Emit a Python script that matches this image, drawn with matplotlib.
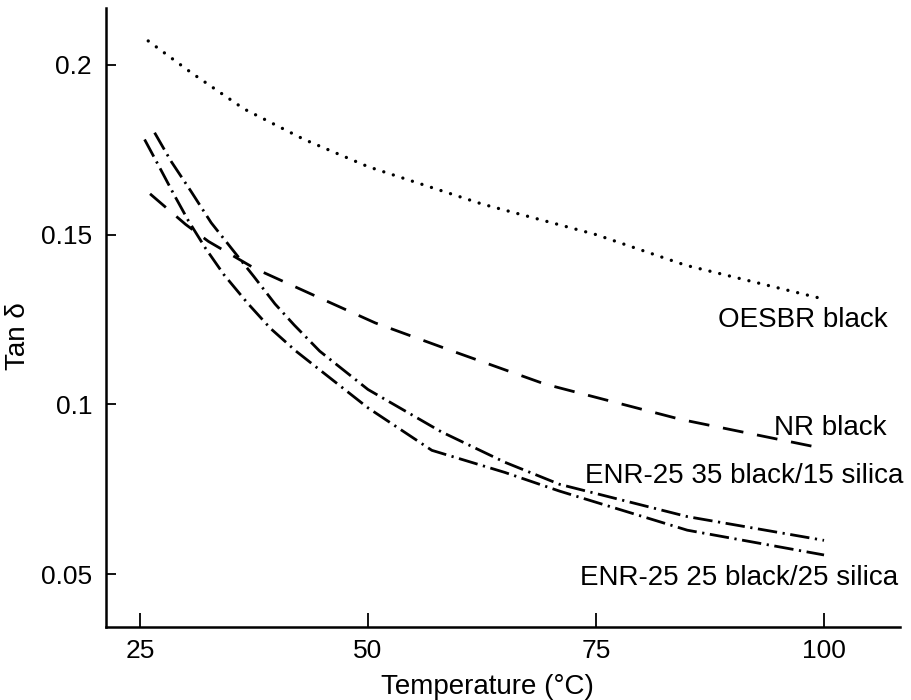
import matplotlib
matplotlib.use("Agg")
import matplotlib.pyplot as plt

plt.rcParams['font.family'] = ['Liberation Sans', 'DejaVu Sans']

# OESBR black (dotted)
oesbr_t = [25.9, 30.7, 36.4, 43.0, 50.0, 62.5, 75.0, 84.8, 100.0]
oesbr_v = [0.207, 0.1975, 0.187, 0.178, 0.170, 0.159, 0.150, 0.141, 0.131]

# NR black (dashed)
nr_t = [26.1, 30.0, 32.5, 37.6, 45.0, 50.8, 60.0, 69.4, 84.3, 100.0]
nr_v = [0.162, 0.153, 0.148, 0.140, 0.131, 0.124, 0.1150, 0.106, 0.0956, 0.087]

# ENR-25 35 black/15 silica (dash-dot, upper)
enr35_t = [26.6, 28.4, 30.6, 32.8, 35.1, 37.5, 39.8, 41.9, 44.7, 50.0, 58.0, 65.0, 71.0, 85.0, 100.0]
enr35_v = [0.180, 0.1716, 0.1627, 0.1535, 0.1457, 0.1376, 0.1296, 0.1234, 0.1157, 0.1044,
           0.092, 0.083, 0.0765, 0.067, 0.060]

# ENR-25 25 black/25 silica (dash-dot, lower)
enr25_t = [25.5, 27.2, 28.7, 30.3, 32.2, 34.2, 36.8, 39.3, 42.1, 50.0, 57.0, 65.0, 71.0, 85.0, 100.0]
enr25_v = [0.178, 0.1695, 0.1619, 0.1541, 0.1459, 0.1382, 0.1298, 0.1224, 0.1157, 0.099,
           0.0865, 0.080, 0.0745, 0.063, 0.0557]

labels = ["OESBR black", "NR black", "ENR-25 35 black/15 silica", "ENR-25 25 black/25 silica"]
label_x = [107.0, 106.9, 108.7, 108.1]
label_y = [0.1228, 0.091, 0.0769, 0.0468]

xticks = [25, 50, 75, 100]
yticks = [0.05, 0.1, 0.15, 0.2]
yticklabels = ["0.05", "0.1", "0.15", "0.2"]

fig = plt.figure(figsize=(9.11, 7.0), dpi=100, facecolor='w')
ax = fig.add_axes([106 / 911, 1 - 627 / 700, 794 / 911, 619 / 700])

ax.plot(oesbr_t, oesbr_v, color='k', lw=2.4, linestyle=(0, (0.01, 3.0)),
        dash_capstyle='round')
ax.plot(nr_t, nr_v, color='k', lw=2.0, linestyle=(0, (7.5, 5)))
ax.plot(enr35_t, enr35_v, color='k', lw=2.0, linestyle=(0, (7, 2, 0.8, 2)))
ax.plot(enr25_t, enr25_v, color='k', lw=2.0, linestyle=(0, (7, 2, 0.8, 2)))

for s, x, y in zip(labels, label_x, label_y):
    ax.text(x, y, s, ha='right', va='baseline', fontsize=20)

ax.set_xlim(21.27, 108.33)
ax.set_ylim(0.0345, 0.2167)
ax.set_xticks(xticks)
ax.set_yticks(yticks)
ax.set_yticklabels(yticklabels)

ax.spines['top'].set_visible(False)
ax.spines['right'].set_visible(False)
ax.spines['left'].set_linewidth(1.8)
ax.spines['bottom'].set_linewidth(1.8)
ax.tick_params(axis='x', direction='in', length=10, width=1.3, labelsize=19, pad=9)
ax.tick_params(axis='y', direction='in', length=7, width=1.3, labelsize=19, pad=10)

ax.set_xlabel("Temperature (°C)", fontsize=20)
ax.xaxis.set_label_coords(0.48, -0.076)
ax.set_ylabel("Tan δ", fontsize=20)
ax.yaxis.set_label_coords(-0.094, 0.47)

fig.savefig("out.png", dpi=100, facecolor='w')
